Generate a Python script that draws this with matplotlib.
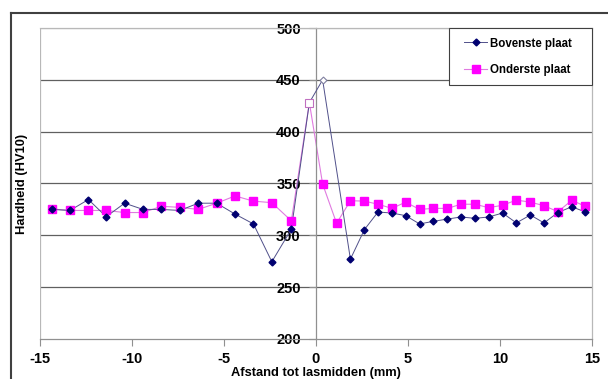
import matplotlib
matplotlib.use("Agg")
import matplotlib.pyplot as plt
from matplotlib.lines import Line2D
from matplotlib.patches import Rectangle
import numpy as np

plt.rcParams['font.family'] = ['Liberation Sans', 'DejaVu Sans']
plt.rcParams['font.weight'] = 'bold'
plt.rcParams['axes.unicode_minus'] = False

# Bovenste plaat (upper plate)
x_boven = [-14.36, -13.37, -12.37, -11.4, -10.4, -9.4, -8.4, -7.4, -6.4, -5.4, -4.4, -3.4, -2.4, -1.34,
           -0.36, 0.36,
           1.87, 2.63, 3.37, 4.13, 4.87, 5.63, 6.38, 7.14, 7.88, 8.64, 9.38, 10.14, 10.89, 11.65, 12.39,
           13.15, 13.9, 14.64]
y_boven = [325, 324, 334.5, 318, 331, 325, 325, 324, 331, 331, 320.5, 311, 274.5, 306,
           428, 450,
           277, 305.5, 322.5, 321.5, 319, 311, 313.5, 315.7, 317.7, 316.4, 317.7, 321.5, 312, 319.6, 312,
           322, 327.6, 322.5]

# Onderste plaat (lower plate)
x_onder = [-14.36, -13.37, -12.37, -11.4, -10.4, -9.4, -8.4, -7.4, -6.4, -5.4, -4.4, -3.4, -2.4, -1.34,
           -0.36, 0.36, 1.12,
           1.87, 2.63, 3.37, 4.13, 4.87, 5.63, 6.38, 7.14, 7.88, 8.64, 9.38, 10.14, 10.89, 11.65, 12.39,
           13.15, 13.9, 14.64]
y_onder = [325.5, 324, 324, 324, 322, 322, 328, 327, 325, 331, 338, 333, 331.5, 314,
           428, 349.5, 311.6,
           333.4, 333, 330, 326, 332, 325, 326, 326, 330, 330, 326.7, 329, 334, 332, 328.6,
           322.8, 333.8, 328]

# points drawn with hollow markers (weld zone)
hollow_boven = [-0.36, 0.36]
hollow_onder = [-0.36]

x_ticks = [-15, -10, -5, 0, 5, 10, 15]
y_ticks = [200, 250, 300, 350, 400, 450, 500]

W, H = 608, 379
fig = plt.figure(figsize=(W / 100, H / 100), dpi=100)
fig.patch.set_facecolor('white')

L, R, T, B = 40, 592, 28, 339
ax = fig.add_axes([L / W, 1 - B / H, (R - L) / W, (B - T) / H])
ax.set_xlim(-15, 15)
ax.set_ylim(200, 500)

# grid
for yv in y_ticks[1:-1]:
    ax.axhline(yv, color='#606060', lw=0.9, zorder=1)
ax.axhline(500, color='#b8b8b8', lw=0.9, zorder=1)
ax.axvline(-15, color='#b8b8b8', lw=0.9, zorder=1)

for s in ['top', 'right']:
    ax.spines[s].set_color('#b8b8b8')
    ax.spines[s].set_linewidth(0.9)
ax.spines['bottom'].set_color('#909090')
ax.spines['bottom'].set_linewidth(0.9)
ax.spines['left'].set_position(('data', 0))
ax.spines['left'].set_color('#909090')
ax.spines['left'].set_linewidth(0.9)

ax.set_xticks(x_ticks)
ax.set_yticks(y_ticks)
ax.tick_params(axis='both', direction='out', length=5, width=0.8, color='#909090',
               labelsize=10.5)
ax.tick_params(axis='y', pad=6)
ax.tick_params(axis='x', pad=4.5)
for lab in ax.get_xticklabels() + ax.get_yticklabels():
    lab.set_fontweight('bold')

# lines
ax.plot(x_boven, y_boven, color='#50508a', lw=0.7, zorder=3)
ax.plot(x_onder, y_onder, color='#e07ae0', lw=0.8, zorder=2)

# markers
xb = np.array(x_boven); yb = np.array(y_boven)
xo = np.array(x_onder); yo = np.array(y_onder)
mb = ~np.isin(xb, hollow_boven)
mo = ~np.isin(xo, hollow_onder)
ax.plot(xo[mo], yo[mo], ls='none', marker='s', ms=5.5, color='#ff00ff', mec='#ff00ff', zorder=4)
ax.plot(xb[mb], yb[mb], ls='none', marker='D', ms=3.5, color='#000070', mec='#000070', zorder=5)
ax.plot(xb[~mb], yb[~mb], ls='none', marker='D', ms=3.5, mfc='white', mec='#8080a0', mew=0.8, zorder=5)
ax.plot(xo[~mo], yo[~mo], ls='none', marker='s', ms=5.5, mfc='white', mec='#c070c0', mew=0.8, zorder=6)

ax.set_xlabel('Afstand tot lasmidden (mm)', fontsize=9.3, fontweight='bold')
ax.set_ylabel('Hardheid (HV10)', fontsize=9.3, fontweight='bold')
ax.yaxis.set_label_coords(-0.021, 0.5)
ax.xaxis.set_label_coords(0.5, -0.09)

# legend
h1 = Line2D([], [], color='#50508a', lw=0.7, marker='D', ms=3.5, mfc='#000070', mec='#000070')
h2 = Line2D([], [], color='#e07ae0', lw=0.8, marker='s', ms=5.5, mfc='#ff00ff', mec='#ff00ff')
leg = fig.legend([h1, h2], ['Bovenste plaat', 'Onderste plaat'], loc='center left',
                 bbox_to_anchor=(464 / W, 1 - 57 / H), prop={'size': 8.3, 'weight': 'bold'},
                 frameon=False, handlelength=2.0, handletextpad=0.25,
                 labelspacing=1.3, borderpad=0, borderaxespad=0)
fig.add_artist(Rectangle((449 / W, 1 - 85 / H), (592 - 449) / W, 57 / H, transform=fig.transFigure,
                         facecolor='white', edgecolor='#404040', lw=0.8, zorder=4))
leg.set_zorder(5)

# outer frame (cut by image edges)
fig.add_artist(Line2D([11 / W, 11 / W], [0, 1 - 13 / H], color='#404040', lw=1.5,
                      transform=fig.transFigure))
fig.add_artist(Line2D([11 / W, 1], [1 - 13 / H, 1 - 13 / H], color='#404040', lw=1.5,
                      transform=fig.transFigure))

fig.savefig('out.png', dpi=100, facecolor='white')
